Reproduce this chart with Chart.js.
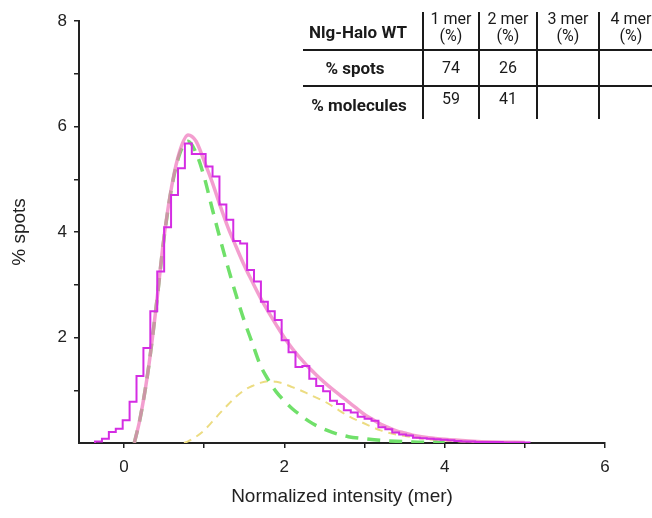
<!DOCTYPE html>
<html>
<head>
<meta charset="utf-8">
<script src="https://cdn.jsdelivr.net/npm/chart.js@4/dist/chart.umd.min.js"></script>
<style>
html,body{margin:0;padding:0;background:#fff;}
#wrap{position:relative;width:652px;height:518px;overflow:hidden;background:#fff;}
#c{position:absolute;left:0;top:0;}
.t{position:absolute;font-family:Roboto,"Liberation Sans",sans-serif;color:#1a1a1a;white-space:nowrap;transform:translate(-50%,-50%);text-align:center;font-size:16px;line-height:16px;}
.b{font-weight:bold;font-size:17px;}
.vl{position:absolute;background:#1a1a1a;width:2px;}
.hl{position:absolute;background:#1a1a1a;height:2px;}
</style>
</head>
<body>
<div id="wrap"><canvas id="c" width="652" height="518"></canvas><div id="tbl"></div></div>
<script>
// ---------- data ----------
// histogram (% spots), bins start at histStart with width histBinWidth (mer)
const histStart = -0.36;
const histBinWidth = 0.0862;
const histValues = [0.03,0.08,0.21,0.27,0.43,0.78,1.27,1.80,2.50,3.25,4.09,4.70,5.21,5.68,5.48,5.48,5.24,5.05,4.52,4.23,3.83,3.78,3.28,3.06,2.68,2.50,2.33,1.95,1.72,1.44,1.46,1.22,1.08,0.98,0.80,0.74,0.62,0.58,0.50,0.46,0.42,0.30,0.26,0.20,0.16,0.14,0.10,0.09,0.08,0.07,0.06,0.05,0.04,0.03,0.03,0.02,0.02,0.02,0.02,0.01,0.01,0.01,0.01];

// total fit (solid pink)
const totalX = [0.13,0.2,0.3,0.4,0.5,0.6,0.7,0.8,0.9,1.0,1.1,1.2,1.3,1.4,1.5,1.6,1.7,1.8,1.9,2.0,2.1,2.2,2.3,2.4,2.5,2.6,2.7,2.8,2.9,3.0,3.1,3.2,3.3,3.4,3.5,3.6,3.8,4.0,4.3,4.6,5.0];
const totalY = [0,0.45,1.35,2.55,3.9,4.9,5.55,5.84,5.72,5.35,4.95,4.5,4.08,3.72,3.37,3.06,2.76,2.49,2.24,2.0,1.79,1.61,1.44,1.29,1.15,1.02,0.9,0.78,0.66,0.54,0.45,0.36,0.29,0.23,0.19,0.15,0.10,0.07,0.04,0.02,0.01];

// 1 mer component (green dashed)
const monoX = [0.13,0.2,0.3,0.4,0.5,0.6,0.7,0.8,0.9,1.0,1.1,1.2,1.3,1.4,1.5,1.6,1.7,1.8,1.9,2.0,2.1,2.2,2.3,2.4,2.6,2.8,3.0,3.2,3.6,4.0];
const monoY = [0,0.45,1.35,2.55,3.88,4.88,5.5,5.72,5.5,5.05,4.45,3.87,3.32,2.8,2.32,1.9,1.48,1.2,0.97,0.8,0.65,0.53,0.42,0.33,0.2,0.12,0.08,0.05,0.02,0.01];

// 2 mer component (yellow dashed)
const diX = [0.75,0.8,0.9,1.0,1.1,1.2,1.3,1.4,1.5,1.6,1.7,1.8,1.9,2.0,2.1,2.2,2.3,2.4,2.5,2.6,2.8,3.0,3.2,3.4,3.6,3.8,4.0,4.2,4.5,5.0];
const diY = [0,0.03,0.12,0.24,0.4,0.57,0.73,0.88,1.0,1.08,1.14,1.17,1.16,1.12,1.06,1.0,0.93,0.86,0.79,0.7,0.51,0.37,0.24,0.16,0.11,0.07,0.045,0.03,0.015,0.005];

// axis ticks
const xTickValues = [0,1,2,3,4,5,6];
const xTickLabels = ["0","","2","","4","","6"];
const yTickValues = [1,2,3,4,5,6,7,8];
const yTickLabels = ["","2","","4","","6","","8"];

// inset table
const tableTitle = "Nlg-Halo WT";
const tableColumns = ["1 mer", "2 mer", "3 mer", "4 mer"];
const tableColumnUnit = "(%)";
const tableRows = ["% spots", "% molecules"];
const spotsPct = [74, 26, null, null];
const moleculesPct = [59, 41, null, null];

// ---------- build datasets ----------
const histPts = [{x: histStart, y: 0}];
histValues.forEach((v, i) => histPts.push({x: histStart + i * histBinWidth, y: v}));
histPts.push({x: histStart + histValues.length * histBinWidth, y: histValues[histValues.length - 1]});
const zip = (xs, ys) => xs.map((x, i) => ({x, y: ys[i]}));

const axisFont = {family: '"Liberation Sans", Arial, sans-serif', size: 17};
const titleFont = {family: '"Liberation Sans", Arial, sans-serif', size: 19};

new Chart(document.getElementById('c'), {
  type: 'line',
  data: {
    datasets: [
      {label: 'histogram', data: histPts, stepped: 'before', borderColor: '#d42de3', borderWidth: 2, pointRadius: 0, fill: false, order: 0},
      {label: 'total fit', data: zip(totalX, totalY), borderColor: 'rgba(238,120,188,0.72)', borderWidth: 3.5, pointRadius: 0, tension: 0.4, cubicInterpolationMode: 'monotone', fill: false, order: 1},
      {label: '1 mer', data: zip(monoX, monoY), borderColor: '#70e06a', borderWidth: 3.5, borderDash: [13, 9], pointRadius: 0, cubicInterpolationMode: 'monotone', fill: false, order: 2},
      {label: '2 mer', data: zip(diX, diY), borderColor: '#ecdc82', borderWidth: 2, borderDash: [8, 6], pointRadius: 0, cubicInterpolationMode: 'monotone', fill: false, order: 3}
    ]
  },
  options: {
    responsive: false,
    animation: false,
    devicePixelRatio: 1,
    layout: {padding: {top: 21, right: 47, left: 0, bottom: 0}},
    plugins: {legend: {display: false}, tooltip: {enabled: false}},
    scales: {
      x: {
        type: 'linear', min: -0.56, max: 6,
        afterBuildTicks: s => { s.ticks = xTickValues.map(v => ({value: v})); },
        afterFit: s => { s.height = 75; },
        ticks: {callback: (v) => xTickLabels[xTickValues.indexOf(v)] ?? '', font: axisFont, color: '#222', padding: 9, maxRotation: 0, autoSkip: false},
        grid: {drawOnChartArea: false, drawTicks: true, tickLength: 5, color: '#222', lineWidth: 1.5},
        border: {color: '#222', width: 2},
        title: {display: true, text: 'Normalized intensity (mer)', font: titleFont, color: '#222', padding: {top: 0, bottom: 10}}
      },
      y: {
        type: 'linear', min: 0, max: 8,
        afterBuildTicks: s => { s.ticks = yTickValues.map(v => ({value: v})); },
        afterFit: s => { s.width = 79; },
        ticks: {callback: (v) => yTickLabels[yTickValues.indexOf(v)] ?? '', font: axisFont, color: '#222', padding: 7, autoSkip: false},
        grid: {drawOnChartArea: false, drawTicks: true, tickLength: 5, color: '#222', lineWidth: 1.5},
        border: {color: '#222', width: 2},
        title: {display: true, text: '% spots', font: titleFont, color: '#222', padding: {top: 8, bottom: 0}}
      }
    }
  }
});

// ---------- inset table (HTML overlay) ----------
const tbl = document.getElementById('tbl');
function addText(txt, x, y, bold, extra) {
  const d = document.createElement('div');
  d.className = 't' + (bold ? ' b' : '');
  d.innerHTML = txt;
  d.style.left = x + 'px';
  d.style.top = y + 'px';
  if (extra) Object.assign(d.style, extra);
  tbl.appendChild(d);
}
function addLine(cls, x, y, len) {
  const d = document.createElement('div');
  d.className = cls;
  d.style.left = x + 'px';
  d.style.top = y + 'px';
  if (cls === 'vl') d.style.height = len + 'px'; else d.style.width = len + 'px';
  tbl.appendChild(d);
}
const colCenters = [451, 508, 568, 631];
const vLines = [422, 478, 536, 598];
vLines.forEach(x => addLine('vl', x, 12, 107));
addLine('hl', 303, 49, 349);
addLine('hl', 303, 85, 349);
addText(tableTitle, 358, 32, true);
tableColumns.forEach((c, i) => addText(c + '<br>' + tableColumnUnit, colCenters[i], 27, false, {lineHeight: '17px'}));
addText(tableRows[0], 355, 68, true);
addText(tableRows[1], 359, 105, true);
spotsPct.forEach((v, i) => { if (v !== null) addText(String(v), colCenters[i], 68, false); });
moleculesPct.forEach((v, i) => { if (v !== null) addText(String(v), colCenters[i], 99, false); });
</script>
</body>
</html>
